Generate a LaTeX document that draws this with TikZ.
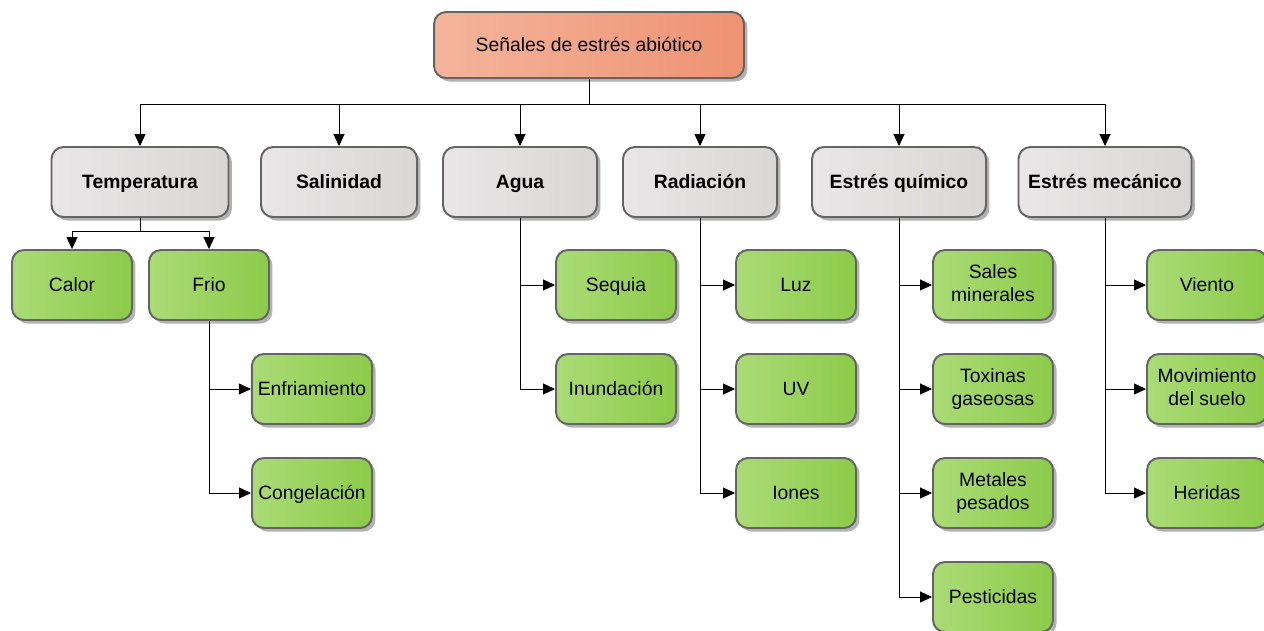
\documentclass[tikz,border=0pt]{standalone}
\usepackage{fontspec}
\setmainfont{Liberation Sans}
\usetikzlibrary{arrows.meta,shadows}

\definecolor{rootL}{HTML}{F4B49C}
\definecolor{rootR}{HTML}{EE9272}
\definecolor{catL}{HTML}{E8E6E6}
\definecolor{catR}{HTML}{D9D6D6}
\definecolor{leafL}{HTML}{AADB76}
\definecolor{leafR}{HTML}{8CCB4A}
\definecolor{edge}{HTML}{646464}

\newcommand{\boxstrut}{\rule[-2.1pt]{0pt}{12.1pt}}

\tikzstyle{box} = [rectangle, rounded corners=0.24cm, draw=edge, line width=1.1pt,
  align=center, font=\fontsize{11}{13}\selectfont,
  execute at begin node=\boxstrut, execute at end node=\boxstrut,
  drop shadow={shadow xshift=0.07cm, shadow yshift=-0.07cm, fill=black, opacity=0.3}]
\tikzstyle{root} = [box, left color=rootL, right color=rootR,
  minimum width=6.2cm, minimum height=1.32cm]
\tikzstyle{cat} = [box, left color=catL, right color=catR,
  minimum height=1.4cm, font=\fontsize{11}{13}\selectfont\bfseries]
\tikzstyle{leaf} = [box, left color=leafL, right color=leafR,
  minimum width=2.4cm, minimum height=1.4cm]
\tikzstyle{arr} = [-{Triangle[length=0.24cm, width=0.22cm]}, line width=0.5pt]

\begin{document}
\begin{tikzpicture}[x=0.02cm, y=-0.02cm]
  \useasboundingbox (0,0) rectangle (1264,630);

  % top
  \node[root] (senales) at (589,45) {Señales de estrés abiótico};

  % categories
  \node[cat, minimum width=3.54cm] (temp) at (140,182) {Temperatura};
  \node[cat, minimum width=3.12cm] (sal)  at (339,182) {Salinidad};
  \node[cat, minimum width=3.08cm] (agua) at (520,182) {Agua};
  \node[cat, minimum width=3.08cm] (rad)  at (700,182) {Radiación};
  \node[cat, minimum width=3.48cm] (quim) at (899,182) {Estrés químico};
  \node[cat, minimum width=3.46cm] (mec)  at (1105,182) {Estrés mecánico};

  % temperatura
  \node[leaf] (calor) at (72,285) {Calor};
  \node[leaf] (frio)  at (209,285) {Frio};
  \node[leaf] (enfr)  at (312,389) {Enfriamiento};
  \node[leaf] (cong)  at (312,493) {Congelación};

  % agua
  \node[leaf] (sequia) at (616,285) {Sequia};
  \node[leaf] (inund)  at (616,389) {Inundación};

  % radiacion
  \node[leaf] (luz)   at (796,285) {Luz};
  \node[leaf] (uv)    at (796,389) {UV};
  \node[leaf] (iones) at (796,493) {Iones};

  % estres quimico
  \node[leaf] (sales)  at (993,285) {Sales\\minerales};
  \node[leaf] (toxin)  at (993,389) {Toxinas\\gaseosas};
  \node[leaf] (metal)  at (993,493) {Metales\\pesados};
  \node[leaf] (pestic) at (993,597) {Pesticidas};

  % estres mecanico
  \node[leaf] (viento) at (1207,285) {Viento};
  \node[leaf] (movim)  at (1207,389) {Movimiento\\del suelo};
  \node[leaf] (herid)  at (1207,493) {Heridas};

  % connectors
  \foreach \c in {temp,sal,agua,rad,quim,mec}
    \draw[arr] (senales.south) -- ++(0,25) -| (\c.north);
  \foreach \c in {calor,frio}
    \draw[arr] (temp.south) -- ++(0,13) -| (\c.north);
  \foreach \c in {enfr,cong}
    \draw[arr] (frio.south) |- (\c.west);
  \foreach \c in {sequia,inund}
    \draw[arr] (agua.south) |- (\c.west);
  \foreach \c in {luz,uv,iones}
    \draw[arr] (rad.south) |- (\c.west);
  \foreach \c in {sales,toxin,metal,pestic}
    \draw[arr] (quim.south) |- (\c.west);
  \foreach \c in {viento,movim,herid}
    \draw[arr] (mec.south) |- (\c.west);
\end{tikzpicture}
\end{document}
